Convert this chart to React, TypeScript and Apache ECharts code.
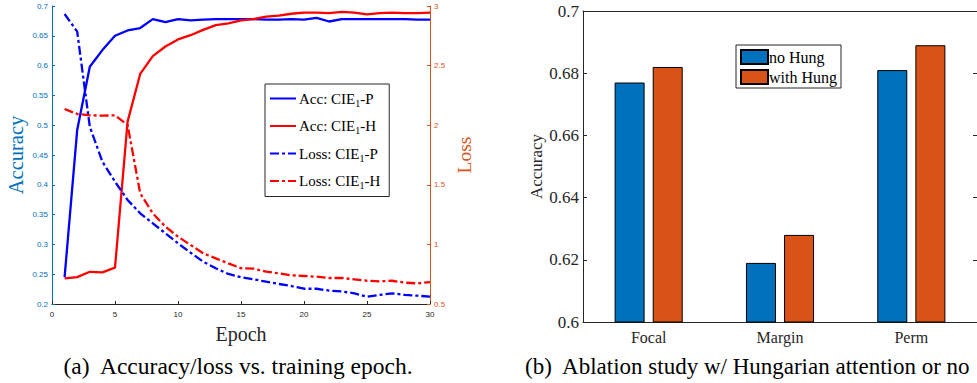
import React, { useEffect, useRef } from 'react';
import * as echarts from 'echarts';

const epochs = [1, 2, 3, 4, 5, 6, 7, 8, 9, 10, 11, 12, 13, 14, 15, 16, 17, 18, 19, 20, 21, 22, 23, 24, 25, 26, 27, 28, 29, 30];
const accP = [0.245, 0.492, 0.598, 0.626, 0.65, 0.659, 0.663, 0.678, 0.673, 0.678, 0.676, 0.677, 0.678, 0.678, 0.678, 0.678, 0.677, 0.677, 0.678, 0.677, 0.68, 0.674, 0.678, 0.678, 0.678, 0.678, 0.678, 0.678, 0.677, 0.677];
const accH = [0.243, 0.245, 0.254, 0.253, 0.261, 0.506, 0.586, 0.616, 0.632, 0.644, 0.651, 0.66, 0.668, 0.671, 0.676, 0.678, 0.682, 0.684, 0.687, 0.689, 0.689, 0.688, 0.69, 0.689, 0.686, 0.688, 0.689, 0.688, 0.688, 0.689];
const lossP = [2.933, 2.785, 1.987, 1.694, 1.526, 1.373, 1.261, 1.177, 1.093, 1.009, 0.93, 0.855, 0.8, 0.752, 0.724, 0.707, 0.687, 0.668, 0.651, 0.628, 0.628, 0.612, 0.605, 0.59, 0.561, 0.576, 0.59, 0.576, 0.57, 0.561];
const lossH = [2.136, 2.094, 2.083, 2.08, 2.083, 2.002, 1.429, 1.261, 1.149, 1.065, 0.995, 0.925, 0.883, 0.841, 0.8, 0.796, 0.771, 0.757, 0.741, 0.735, 0.729, 0.718, 0.718, 0.707, 0.695, 0.69, 0.695, 0.679, 0.673, 0.684];
const lineNames = ['Acc: CIE1-P', 'Acc: CIE1-H', 'Loss: CIE1-P', 'Loss: CIE1-H'];

const barCategories = ['Focal', 'Margin', 'Perm'];
const barNames = ['no Hung', 'with Hung'];
const noHung = [0.677, 0.619, 0.681];
const withHung = [0.682, 0.628, 0.689];

const captionA = '(a)  Accuracy/loss vs. training epoch.';
const captionB = '(b)  Ablation study w/ Hungarian attention or no';

const SERIF = 'Liberation Serif';
const SANS = 'Liberation Sans';
const DARK = '#262626';
const MBLUE = '#0072BD';
const MORANGE = '#D95319';

const pairs = (ys: number[]) => epochs.map((e, i) => [e, ys[i]]);

export default function App() {
  const ref = useRef<HTMLDivElement>(null);
  useEffect(() => {
    if (!ref.current) return;
    const chart = echarts.init(ref.current, null, { renderer: 'svg' });
    const dashDot = [9, 3, 3, 3];
    const option: any = {
      animation: false,
      backgroundColor: '#fff',
      textStyle: { fontFamily: SERIF },
      grid: [
        { left: 52, top: 6, width: 378, height: 298 },
        { left: 583, top: 11, width: 397, height: 311 },
      ],
      xAxis: [
        {
          type: 'value', gridIndex: 0, min: 0, max: 30, interval: 5,
          name: 'Epoch', nameLocation: 'middle', nameGap: 20,
          nameTextStyle: { fontFamily: SERIF, fontSize: 20, color: DARK },
          axisLine: { lineStyle: { color: DARK, width: 1 } },
          axisTick: { inside: true, length: 3, lineStyle: { color: DARK } },
          axisLabel: { fontFamily: SANS, fontSize: 8, color: DARK, margin: 6 },
          splitLine: { show: false },
        },
        {
          type: 'category', gridIndex: 1, data: barCategories, position: 'bottom',
          axisLine: { lineStyle: { color: DARK, width: 1 } },
          axisTick: { inside: true, length: 3, alignWithLabel: true, lineStyle: { color: DARK } },
          axisLabel: { fontFamily: SERIF, fontSize: 16, color: DARK, margin: 7 },
        },
        {
          type: 'category', gridIndex: 1, data: barCategories, position: 'top',
          axisLine: { lineStyle: { color: DARK, width: 1 } },
          axisTick: { inside: true, length: 3, alignWithLabel: true, lineStyle: { color: DARK } },
          axisLabel: { show: false },
        },
      ],
      yAxis: [
        {
          type: 'value', gridIndex: 0, min: 0.2, max: 0.7, interval: 0.05, position: 'left',
          name: 'Accuracy', nameLocation: 'middle', nameGap: 26, nameRotate: 90,
          nameTextStyle: { fontFamily: SERIF, fontSize: 20.5, color: MBLUE },
          axisLine: { show: true, lineStyle: { color: MBLUE, width: 1 } },
          axisTick: { show: true, inside: true, length: 3, lineStyle: { color: MBLUE } },
          axisLabel: { fontFamily: SANS, fontSize: 8, color: MBLUE, margin: 4 },
          splitLine: { show: false },
        },
        {
          type: 'value', gridIndex: 0, min: 0.5, max: 3, interval: 0.5, position: 'right',
          name: 'Loss', nameLocation: 'middle', nameGap: 24, nameRotate: 90,
          nameTextStyle: { fontFamily: SERIF, fontSize: 19.5, color: MORANGE },
          axisLine: { show: true, lineStyle: { color: MORANGE, width: 1 } },
          axisTick: { show: true, inside: true, length: 3, lineStyle: { color: MORANGE } },
          axisLabel: { fontFamily: SANS, fontSize: 8, color: MORANGE, margin: 4 },
          splitLine: { show: false },
        },
        {
          type: 'value', gridIndex: 1, min: 0.6, max: 0.7, interval: 0.02, position: 'left',
          name: 'Accuracy', nameLocation: 'middle', nameGap: 38, nameRotate: 90,
          nameTextStyle: { fontFamily: SERIF, fontSize: 17, color: DARK },
          axisLine: { show: true, lineStyle: { color: DARK, width: 1 } },
          axisTick: { show: true, inside: true, length: 4, lineStyle: { color: DARK } },
          axisLabel: { fontFamily: SERIF, fontSize: 17, color: DARK, margin: 4 },
          splitLine: { show: false },
        },
        {
          type: 'value', gridIndex: 1, min: 0.6, max: 0.7, interval: 0.02, position: 'right',
          axisLine: { show: true, lineStyle: { color: DARK, width: 1 } },
          axisTick: { show: true, inside: true, length: 4, lineStyle: { color: DARK } },
          axisLabel: { show: false },
          splitLine: { show: false },
        },
      ],
      legend: [
        {
          data: lineNames,
          left: 265, top: 84, orient: 'vertical',
          itemWidth: 26, itemHeight: 14, itemGap: 10.5,
          padding: [7, 9, 6, 4],
          borderColor: DARK, borderWidth: 1, backgroundColor: '#fff',
          itemStyle: { opacity: 0 },
          formatter: (name: string) => name.replace('CIE1', 'CIE{s|1}'),
          textStyle: {
            fontFamily: SERIF, fontSize: 15, color: '#000', padding: [0, 0, 0, -2],
            rich: { s: { fontFamily: SERIF, fontSize: 10, color: '#000', padding: [9, 0, 0, 0] } },
          },
          selectedMode: false,
        },
        {
          data: barNames,
          left: 736, top: 45, orient: 'vertical', icon: 'rect',
          itemWidth: 27, itemHeight: 14, itemGap: 4,
          padding: [4, 4, 3, 4],
          borderColor: DARK, borderWidth: 1, backgroundColor: '#fff',
          textStyle: { fontFamily: SERIF, fontSize: 16, color: '#000', padding: [0, 0, 0, -4] },
          selectedMode: false,
        },
      ],
      series: [
        { name: lineNames[0], type: 'line', xAxisIndex: 0, yAxisIndex: 0, data: pairs(accP), symbol: 'none', showSymbol: false, color: '#0000FF', lineStyle: { color: '#0000FF', width: 2.3 } },
        { name: lineNames[1], type: 'line', xAxisIndex: 0, yAxisIndex: 0, data: pairs(accH), symbol: 'none', showSymbol: false, color: '#FF0000', lineStyle: { color: '#FF0000', width: 2.3 } },
        { name: lineNames[2], type: 'line', xAxisIndex: 0, yAxisIndex: 1, data: pairs(lossP), symbol: 'none', showSymbol: false, color: '#0000FF', lineStyle: { color: '#0000FF', width: 2.3, type: dashDot } },
        { name: lineNames[3], type: 'line', xAxisIndex: 0, yAxisIndex: 1, data: pairs(lossH), symbol: 'none', showSymbol: false, color: '#FF0000', lineStyle: { color: '#FF0000', width: 2.3, type: dashDot } },
        {
          name: barNames[0], type: 'bar', xAxisIndex: 1, yAxisIndex: 2, data: noHung,
          barWidth: 30, barGap: '27%', color: MBLUE,
          itemStyle: { color: MBLUE, borderColor: '#000', borderWidth: 1 },
        },
        {
          name: barNames[1], type: 'bar', xAxisIndex: 1, yAxisIndex: 2, data: withHung,
          barWidth: 30, barGap: '27%', color: MORANGE,
          itemStyle: { color: MORANGE, borderColor: '#000', borderWidth: 1 },
        },
      ],
      graphic: [
        { type: 'text', x: 238, y: 366, style: { text: captionA, font: '23.5px "Liberation Serif"', fontFamily: SERIF, fontSize: 23.5, fill: '#000', align: 'center', verticalAlign: 'middle' } },
        { type: 'text', x: 525, y: 366, style: { text: captionB, font: '23px "Liberation Serif"', fontFamily: SERIF, fontSize: 23, fill: '#000', align: 'left', verticalAlign: 'middle' } },
      ],
    };
    chart.setOption(option);
    return () => chart.dispose();
  }, []);
  return <div ref={ref} style={{ position: 'fixed', left: 0, top: 0, width: 977, height: 383, background: '#fff' }} />;
}
